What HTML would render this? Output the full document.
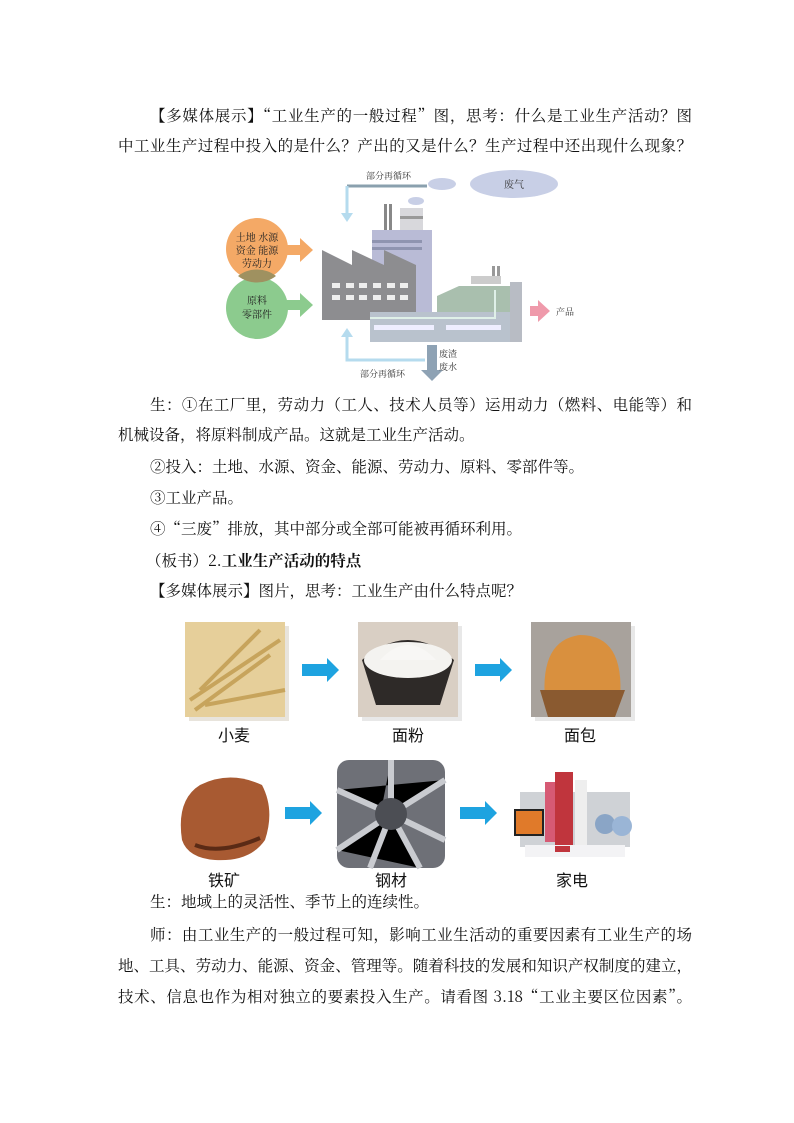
<!DOCTYPE html>
<html lang="zh-CN"><head><meta charset="utf-8"><style>
html,body{margin:0;padding:0;background:#fff;}
body{width:794px;height:1123px;position:relative;overflow:hidden;font-family:"Noto Serif CJK SC","Noto Sans CJK SC",serif;color:#111;}
.l{position:absolute;font-size:15.5px;line-height:20px;white-space:nowrap;}
.j{width:574px;text-align:justify;text-align-last:justify;white-space:normal;height:20px;overflow:hidden;}
.lab{position:absolute;font-size:16px;font-family:"Noto Sans CJK SC",sans-serif;transform:translateX(-50%);line-height:20px;}
svg{position:absolute;left:0;top:0;}
</style></head><body>
<div class="l j" style="left:150px;top:105px;width:542px">【多媒体展示】“工业生产的一般过程”图，思考：什么是工业生产活动？图</div>
<div class="l j" style="left:118px;top:135px">中工业生产过程中投入的是什么？产出的又是什么？生产过程中还出现什么现象？</div>

<div class="l j" style="left:150px;top:394px;width:542px">生：①在工厂里，劳动力（工人、技术人员等）运用动力（燃料、电能等）和</div>
<div class="l" style="left:118px;top:424px">机械设备，将原料制成产品。这就是工业生产活动。</div>
<div class="l" style="left:150px;top:456px">②投入：土地、水源、资金、能源、劳动力、原料、零部件等。</div>
<div class="l" style="left:150px;top:487px">③工业产品。</div>
<div class="l" style="left:150px;top:518px">④“三废”排放，其中部分或全部可能被再循环利用。</div>
<div class="l" style="left:146px;top:550px">（板书）2.<b>工业生产活动的特点</b></div>
<div class="l" style="left:150px;top:580px">【多媒体展示】图片，思考：工业生产由什么特点呢？</div>

<div class="l" style="left:150px;top:891px">生：地域上的灵活性、季节上的连续性。</div>
<div class="l j" style="left:150px;top:924px;width:542px">师：由工业生产的一般过程可知，影响工业生活动的重要因素有工业生产的场</div>
<div class="l j" style="left:118px;top:955px">地、工具、劳动力、能源、资金、管理等。随着科技的发展和知识产权制度的建立，</div>
<div class="l j" style="left:118px;top:986px">技术、信息也作为相对独立的要素投入生产。请看图 3.18“工业主要区位因素”。</div>

<svg width="794" height="1123" viewBox="0 0 794 1123" font-family="Noto Serif CJK SC,serif">
<circle cx="257" cy="249" r="31" fill="#f4a966"/>
<circle cx="257" cy="308" r="31" fill="#8ccb8e"/>
<path d="M238,276 A31,31 0 0 1 276,276 A31,31 0 0 1 238,276Z" fill="#9f9160"/>
<path d="M286,245 h14 v-7 l13,12 l-13,12 v-7 h-14z" fill="#f4a966"/>
<path d="M286,300 h14 v-7 l13,12 l-13,12 v-7 h-14z" fill="#8ccb8e"/>
<g font-size="10" fill="#222" text-anchor="middle">
<text x="257" y="241">土地  水源</text><text x="257" y="254">资金  能源</text><text x="257" y="267">劳动力</text>
<text x="257" y="304">原料</text><text x="257" y="318">零部件</text>
</g>
<path d="M347,186 h80" stroke="#8aa0ae" stroke-width="3"/>
<path d="M347,186 v28" stroke="#b5dbee" stroke-width="3" fill="none"/>
<path d="M341,213 l6,9 l6,-9z" fill="#b5dbee"/>
<text x="366" y="179" font-size="9" fill="#333">部分再循环</text>
<ellipse cx="442" cy="184" rx="14" ry="6" fill="#c8cfe6"/>
<ellipse cx="514" cy="184" rx="44" ry="14" fill="#c8cfe6"/>
<text x="504" y="188" font-size="10" fill="#333">废气</text>
<ellipse cx="416" cy="201" rx="8" ry="4" fill="#c8cfe6"/>
<rect x="384" y="204" width="3" height="28" fill="#888"/><rect x="389" y="204" width="3" height="28" fill="#888"/>
<rect x="400" y="208" width="23" height="22" fill="#d8d8dc"/><rect x="400" y="216" width="23" height="3" fill="#999"/>
<rect x="372" y="230" width="60" height="85" fill="#b9bbd6"/>
<rect x="372" y="240" width="50" height="3" fill="#8f94b0"/><rect x="372" y="247" width="50" height="3" fill="#8f94b0"/>
<path d="M322,320 V250 l30,15 V250 l32,15 V250 l32,15 V320z" fill="#8d8d90"/>
<g fill="#eee"><rect x="332" y="283" width="8" height="5"/><rect x="346" y="283" width="8" height="5"/><rect x="359" y="283" width="8" height="5"/><rect x="373" y="283" width="8" height="5"/><rect x="387" y="283" width="8" height="5"/><rect x="400" y="283" width="8" height="5"/>
<rect x="332" y="295" width="8" height="5"/><rect x="346" y="295" width="8" height="5"/><rect x="359" y="295" width="8" height="5"/><rect x="373" y="295" width="8" height="5"/><rect x="387" y="295" width="8" height="5"/><rect x="400" y="295" width="8" height="5"/></g>
<rect x="492" y="266" width="3" height="12" fill="#999"/><rect x="497" y="266" width="3" height="12" fill="#999"/>
<rect x="471" y="276" width="30" height="8" fill="#ccc"/>
<path d="M437,312 V296 l22,-10 H510 V312z" fill="#a9bfae"/>
<rect x="370" y="312" width="140" height="30" fill="#b9c2cd"/>
<rect x="510" y="282" width="12" height="60" fill="#b8bcc4"/>
<path d="M370,318 H495 V290" stroke="#dff0e8" stroke-width="2" fill="none"/>
<g><rect x="374" y="325" width="60" height="5" fill="#eef"/><rect x="446" y="325" width="55" height="5" fill="#eef"/></g>
<path d="M530,306 h8 v-6 l12,11 l-12,11 v-6 h-8z" fill="#ef9aab"/>
<text x="556" y="315" font-size="9" fill="#333">产品</text>
<path d="M347,330 v30 h78" stroke="#b5dbee" stroke-width="3" fill="none"/>
<path d="M341,337 l6,-9 l6,9z" fill="#b5dbee"/>
<path d="M427,345 h10 v25 h6 l-11,11 l-11,-11 h6z" fill="#8ea2b4"/>
<text x="439" y="357" font-size="9" fill="#333">废渣</text><text x="439" y="370" font-size="9" fill="#333">废水</text>
<text x="360" y="377" font-size="9" fill="#333">部分再循环</text>

<rect x="189" y="626" width="100" height="95" fill="#e8e4dc"/>
<rect x="185" y="622" width="100" height="95" fill="#e6cf9a"/>
<path d="M190,700 L280,640 M195,710 L270,655 M200,690 L260,630 M205,705 L285,690" stroke="#c7a45c" stroke-width="4"/>
<rect x="362" y="626" width="100" height="95" fill="#e8e8e8"/>
<rect x="358" y="622" width="100" height="95" fill="#d9cfc4"/>
<path d="M362,660 Q408,620 454,660 L440,705 H376z" fill="#2e2a28"/>
<ellipse cx="408" cy="660" rx="44" ry="18" fill="#f4f3f0"/>
<path d="M380,660 Q408,630 436,660z" fill="#f8f7f5"/>
<rect x="535" y="626" width="100" height="95" fill="#e8e8e8"/>
<rect x="531" y="622" width="100" height="95" fill="#a8a29c"/>
<path d="M545,700 Q540,640 580,635 Q625,635 620,700z" fill="#d9903e"/>
<path d="M540,690 H625 L615,717 H548z" fill="#8a5a30"/>
<path d="M302,664 h25 v-6 l12,12 l-12,12 v-6 h-25z" fill="#1ea3e0"/>
<path d="M475,664 h25 v-6 l12,12 l-12,12 v-6 h-25z" fill="#1ea3e0"/>
<path d="M182,840 Q176,800 200,785 Q230,770 262,785 Q275,810 265,840 Q250,862 215,860 Q188,858 182,840z" fill="#a85a32"/>
<path d="M195,845 Q220,855 260,838" stroke="#5a2a15" stroke-width="4" fill="none"/>
<rect x="337" y="760" width="108" height="108" rx="12" fill="#6e7077"/>
<path d="M337,790 L391,814 L445,780 M391,760 L391,814 L370,868 M391,814 L445,840 M337,850 L391,814 L420,868" stroke="#c9cbd0" stroke-width="6"/>
<circle cx="391" cy="814" r="16" fill="#4c4e54"/>
<rect x="520" y="792" width="110" height="55" fill="#cfd2d6"/>
<rect x="555" y="772" width="18" height="78" fill="#c0353d"/>
<rect x="545" y="782" width="10" height="60" fill="#d65a74"/>
<rect x="575" y="780" width="12" height="65" fill="#eee"/>
<rect x="515" y="810" width="28" height="25" fill="#e07a2a" stroke="#222" stroke-width="2"/>
<circle cx="605" cy="824" r="10" fill="#8aa5c6"/><circle cx="622" cy="826" r="10" fill="#9ab5d6"/>
<rect x="525" y="845" width="100" height="12" fill="#f3f3f5"/><rect x="555" y="846" width="15" height="6" fill="#c0353d"/>
<path d="M285,807 h25 v-6 l12,12 l-12,12 v-6 h-25z" fill="#1ea3e0"/>
<path d="M460,807 h25 v-6 l12,12 l-12,12 v-6 h-25z" fill="#1ea3e0"/>
</svg>
<div class="lab" style="left:234px;top:724px">小麦</div>
<div class="lab" style="left:408px;top:724px">面粉</div>
<div class="lab" style="left:580px;top:724px">面包</div>
<div class="lab" style="left:224px;top:869px">铁矿</div>
<div class="lab" style="left:391px;top:869px">钢材</div>
<div class="lab" style="left:572px;top:869px">家电</div>
</body></html>
